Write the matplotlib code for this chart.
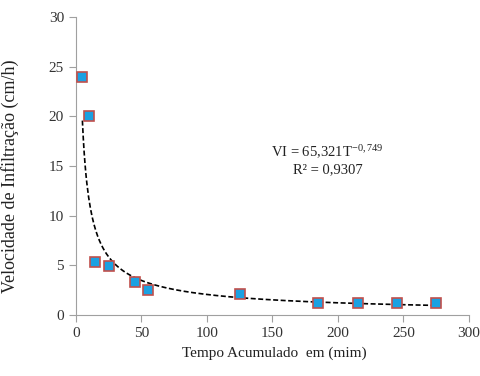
import matplotlib
matplotlib.use('Agg')
import matplotlib.pyplot as plt
import numpy as np

plt.rcParams['font.family'] = ['Liberation Serif', 'DejaVu Serif']
plt.rcParams['mathtext.fontset'] = 'custom'
plt.rcParams['mathtext.rm'] = 'Liberation Serif'
plt.rcParams['mathtext.it'] = 'Liberation Serif'

# dados
tempo = [5, 10, 15, 25, 45, 55, 125, 185, 215, 245, 275]
vi = [24.0, 20.0, 5.3, 4.9, 3.3, 2.5, 2.1, 1.25, 1.25, 1.25, 1.25]
a, b = 65.321, -0.749

fig = plt.figure(figsize=(4.8, 3.76), dpi=100)
ax = fig.add_axes([0.158, 0.162, 0.819, 0.793])

# linha de tendencia potencia
tt = np.linspace(min(tempo), max(tempo), 400)
ax.plot(tt, a * tt ** b, color='black', ls=(0, (3, 1.5)), lw=1.2, zorder=2)
ax.plot(tempo, vi, 's', ms=6.5, mfc='#1ba1e2', mec='#c0504d', mew=1.2, ls='none', zorder=3)

ax.set_xlim(0, 300)
ax.set_ylim(0, 30)
ax.set_xticks(range(0, 301, 50))
ax.set_yticks(range(0, 31, 5))
for s in ['top', 'right']:
    ax.spines[s].set_visible(False)
for s in ['left', 'bottom']:
    ax.spines[s].set_color('#a0a0a0')
ax.tick_params(colors='#a0a0a0', labelcolor='#333333', labelsize=11, length=5, direction='out')
ax.set_xlabel('Tempo Acumulado  em (mim)', fontsize=11, color='#222222')
ax.xaxis.set_label_coords(0.505, -0.105)
ax.set_ylabel('Velocidade de Infiltração (cm/h)', fontsize=13, color='#222222')
ax.yaxis.set_label_coords(-0.145, 0.466)

ax.text(192, 16.4, r'VI = 65,321T$^{\mathrm{-0,749}}$', fontsize=10.5, color='#222222', ha='center', va='center')
ax.text(192, 14.6, 'R² = 0,9307', fontsize=10.5, color='#222222', ha='center', va='center')

plt.savefig('out.png', dpi=100)
